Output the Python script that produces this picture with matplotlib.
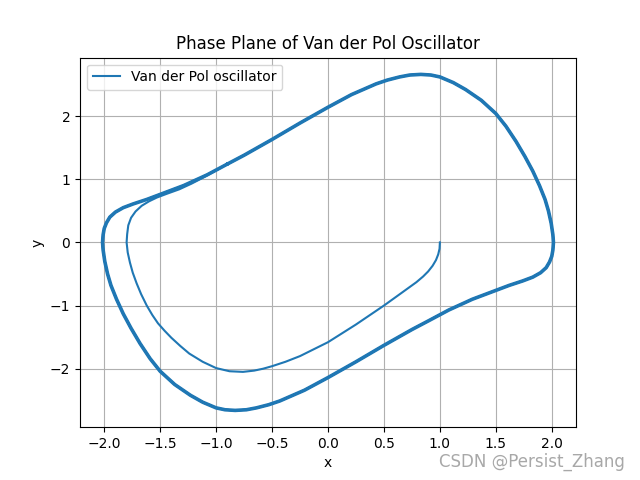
import matplotlib
matplotlib.use("Agg")
import matplotlib.pyplot as plt
import numpy as np

# Transient path from the start point (1, 0) until it joins the limit cycle
transient_x = [1.000, 0.997, 0.985, 0.965, 0.935, 0.895, 0.850, 0.790, 0.720, 0.610,
               0.500, 0.250, 0.000, -0.250, -0.380, -0.500, -0.580, -0.660, -0.760,
               -0.880, -1.000, -1.120, -1.240, -1.320, -1.400, -1.460, -1.520, -1.570,
               -1.620, -1.670, -1.710, -1.745, -1.770, -1.790, -1.800, -1.795, -1.785,
               -1.760, -1.720, -1.665, -1.600, -1.530, -1.440, -1.330, -1.220, -1.100]
transient_y = [0.000, -0.100, -0.190, -0.280, -0.370, -0.460, -0.540, -0.630, -0.720, -0.860,
               -1.000, -1.300, -1.580, -1.800, -1.890, -1.960, -2.000, -2.030, -2.050,
               -2.040, -1.990, -1.890, -1.760, -1.640, -1.510, -1.400, -1.280, -1.150,
               -1.000, -0.820, -0.650, -0.480, -0.320, -0.160, 0.000, 0.130, 0.270,
               0.390, 0.490, 0.580, 0.650, 0.710, 0.770, 0.840, 0.930, 1.040]

# Limit cycle (clockwise), traced repeatedly
cycle_x = [-0.90, -0.75, -0.50, -0.25, 0.00, 0.21, 0.43, 0.53, 0.64, 0.73, 0.83, 0.92,
           1.00, 1.12, 1.23, 1.37, 1.50, 1.59, 1.68, 1.76, 1.83, 1.89, 1.94, 1.97, 1.995,
           2.01, 2.015, 2.01, 2.00, 1.98, 1.95, 1.90, 1.83, 1.74, 1.62, 1.50, 1.29, 1.08,
           0.90, 0.75, 0.50, 0.25, 0.00, -0.21, -0.43, -0.53, -0.64, -0.73, -0.83, -0.92,
           -1.00, -1.12, -1.23, -1.37, -1.50, -1.59, -1.68, -1.76, -1.83, -1.89, -1.94,
           -1.97, -1.995, -2.01, -2.015, -2.01, -2.00, -1.98, -1.95, -1.90, -1.83, -1.74,
           -1.62, -1.50, -1.29, -1.08, -0.90]
cycle_y = [1.24, 1.38, 1.63, 1.89, 2.14, 2.34, 2.51, 2.57, 2.62, 2.65, 2.66, 2.65,
           2.62, 2.53, 2.42, 2.25, 2.04, 1.84, 1.60, 1.36, 1.13, 0.90, 0.68, 0.50, 0.30,
           0.12, 0.00, -0.12, -0.22, -0.31, -0.40, -0.48, -0.55, -0.61, -0.68, -0.76, -0.90, -1.07,
           -1.24, -1.38, -1.63, -1.89, -2.14, -2.34, -2.51, -2.57, -2.62, -2.65, -2.66, -2.65,
           -2.62, -2.53, -2.42, -2.25, -2.04, -1.84, -1.60, -1.36, -1.13, -0.90, -0.68,
           -0.50, -0.30, -0.12, 0.00, 0.12, 0.22, 0.31, 0.40, 0.48, 0.55, 0.61,
           0.68, 0.76, 0.90, 1.07, 1.24]

n_loops = 3
x = np.concatenate([transient_x] + [cycle_x] * n_loops)
y = np.concatenate([transient_y] + [cycle_y] * n_loops)

fig, ax = plt.subplots(figsize=(6.4, 4.8), dpi=100)
ax.plot(cycle_x, cycle_y, color='#1f77b4', linewidth=2.6,
        solid_joinstyle='round', solid_capstyle='round')
ax.plot(x, y, color='#1f77b4', linewidth=1.5, label='Van der Pol oscillator',
        solid_joinstyle='round')
ax.set_title('Phase Plane of Van der Pol Oscillator')
ax.set_xlabel('x')
ax.set_ylabel('y')
ax.grid(True)
ax.legend(loc='upper left')

fig.text(0.977, 0.018, 'CSDN @Persist_Zhang', ha='right', va='bottom',
         color='#a8a8a8', fontsize=12)

fig.savefig('out.png', dpi=100)
